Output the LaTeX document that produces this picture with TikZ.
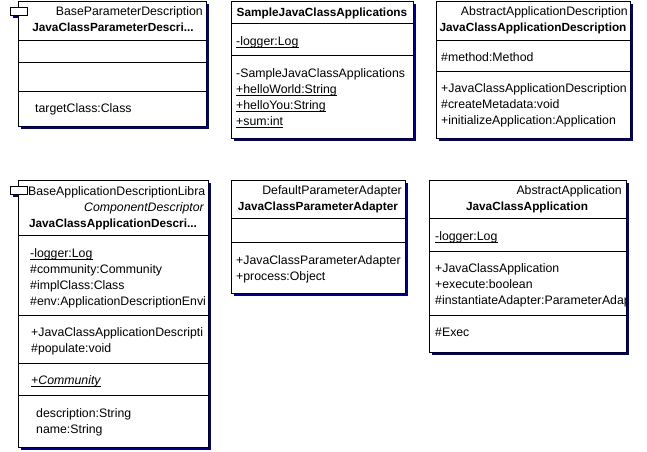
\documentclass[tikz,border=0pt]{standalone}
\usepackage{fontspec}
\setmainfont{Liberation Sans}
\definecolor{navyshadow}{RGB}{0,0,128}
\newcommand{\memberfont}{\fontsize{12.3}{14}\selectfont}
\newcommand{\titlefont}{\fontsize{11.8}{14}\selectfont\bfseries}
\tikzset{
  shadow/.style={fill=navyshadow},
  classbox/.style={draw, fill=white, line width=1pt},
  divider/.style={line width=1pt},
  header/.style={anchor=base east, inner sep=0pt, font=\memberfont},
  title/.style={anchor=base, inner sep=0pt, font=\titlefont},
  member/.style={anchor=base west, inner sep=0pt, font=\memberfont},
  uline/.style={line width=0.8pt},
}
\begin{document}
\begin{tikzpicture}[x=1pt, y=-1pt]
  \useasboundingbox (0,0) rectangle (647,451);

  % JavaClassParameterDescription
  \fill[shadow] (21,4) rectangle (209,129);
  \fill[shadow] (13,10) rectangle (30,18);
  \draw[classbox] (18,1) rectangle (206,126);
  \draw[classbox] (10,7) rectangle (27,15);
  \begin{scope}
    \clip (18,1) rectangle (204,126);
    \node[header] (A1) at (203,15) {BaseParameterDescription};
    \node[title] (A2) at (113,31) {JavaClassParameterDescri...};
    \node[member] (A3) at (35,112) {targetClass:Class};
  \end{scope}
  \draw[divider] (18,40) -- (206,40);
  \draw[divider] (18,62) -- (206,62);
  \draw[divider] (18,91) -- (206,91);

  % SampleJavaClassApplications
  \fill[shadow] (234,4) rectangle (416,141);
  \draw[classbox] (231,1) rectangle (413,138);
  \node[title] (B1) at (322,16) {SampleJavaClassApplications};
  \draw[divider] (231,23) -- (413,23);
  \draw[divider] (231,55) -- (413,55);
  \node[member] (B2) at (236,45) {-logger:Log};
  \node[member] (B3) at (236,77) {-SampleJavaClassApplications};
  \node[member] (B4) at (236,93) {+helloWorld:String};
  \node[member] (B5) at (236,109) {+helloYou:String};
  \node[member] (B6) at (236,125) {+sum:int};
  \draw[uline] ([yshift=-2pt]B2.base west) -- ([yshift=-2pt]B2.base east);
  \draw[uline] ([yshift=-2pt]B4.base west) -- ([yshift=-2pt]B4.base east);
  \draw[uline] ([yshift=-2pt]B5.base west) -- ([yshift=-2pt]B5.base east);
  \draw[uline] ([yshift=-2pt]B6.base west) -- ([yshift=-2pt]B6.base east);

  % JavaClassApplicationDescription
  \fill[shadow] (439,4) rectangle (633,141);
  \draw[classbox] (436,1) rectangle (630,138);
  \begin{scope}
    \clip (436,1) rectangle (630,138);
    \node[header] (C1) at (628,15) {AbstractApplicationDescription};
    \node[title] (C2) at (533,31) {JavaClassApplicationDescription};
    \node[member] (C3) at (441,61) {\#method:Method};
    \node[member] (C4) at (441,92) {+JavaClassApplicationDescription};
    \node[member] (C5) at (441,108) {\#createMetadata:void};
    \node[member] (C6) at (441,124) {+initializeApplication:Application};
  \end{scope}
  \draw[divider] (436,40) -- (630,40);
  \draw[divider] (436,71) -- (630,71);

  % JavaClassApplicationDescription (component)
  \fill[shadow] (21,183) rectangle (211,450);
  \fill[shadow] (13,189) rectangle (30,197);
  \draw[classbox] (18,180) rectangle (208,447);
  \draw[classbox] (10,186) rectangle (27,194);
  \begin{scope}
    \clip (18,180) rectangle (207,447);
    \node[member] (D1) at (28,195) {BaseApplicationDescriptionLibra};
    \node[header] (D2) at (204,211) {\itshape ComponentDescriptor};
    \node[title] (D3) at (113,227) {JavaClassApplicationDescri...};
    \node[member] (D4) at (30,257) {-logger:Log};
    \node[member] (D5) at (30,273) {\#community:Community};
    \node[member] (D6) at (30,289) {\#implClass:Class};
    \node[member] (D7) at (30,305) {\#env:ApplicationDescriptionEnvi};
    \node[member] (D8) at (31,336) {+JavaClassApplicationDescripti};
    \node[member] (D9) at (31,352) {\#populate:void};
    \node[member] (D10) at (31,384) {\itshape +Community};
    \node[member] (D11) at (36,417) {description:String};
    \node[member] (D12) at (36,433) {name:String};
  \end{scope}
  \draw[uline] ([yshift=-2pt]D4.base west) -- ([yshift=-2pt]D4.base east);
  \draw[uline] ([yshift=-2pt]D10.base west) -- ([yshift=-2pt]D10.base east);
  \draw[divider] (18,235) -- (208,235);
  \draw[divider] (18,315) -- (208,315);
  \draw[divider] (18,363) -- (208,363);
  \draw[divider] (18,395) -- (208,395);

  % JavaClassParameterAdapter
  \fill[shadow] (234,183) rectangle (408,296);
  \draw[classbox] (231,180) rectangle (405,293);
  \node[header] (E1) at (402,194) {DefaultParameterAdapter};
  \node[title] (E2) at (318,210) {JavaClassParameterAdapter};
  \draw[divider] (231,218) -- (405,218);
  \draw[divider] (231,242) -- (405,242);
  \node[member] (E3) at (236,264) {+JavaClassParameterAdapter};
  \node[member] (E4) at (236,280) {+process:Object};

  % JavaClassApplication
  \fill[shadow] (432,183) rectangle (629,355);
  \draw[classbox] (429,180) rectangle (626,352);
  \begin{scope}
    \clip (429,180) rectangle (625,352);
    \node[header] (F1) at (622,194) {AbstractApplication};
    \node[title] (F2) at (527,210) {JavaClassApplication};
    \node[member] (F3) at (435,240) {-logger:Log};
    \node[member] (F4) at (435,272) {+JavaClassApplication};
    \node[member] (F5) at (435,288) {+execute:boolean};
    \node[member] (F6) at (435,304) {\#instantiateAdapter:ParameterAdap};
    \node[member] (F7) at (435,336) {\#Exec};
  \end{scope}
  \draw[uline] ([yshift=-2pt]F3.base west) -- ([yshift=-2pt]F3.base east);
  \draw[divider] (429,218) -- (626,218);
  \draw[divider] (429,251) -- (626,251);
  \draw[divider] (429,315) -- (626,315);
\end{tikzpicture}
\end{document}
